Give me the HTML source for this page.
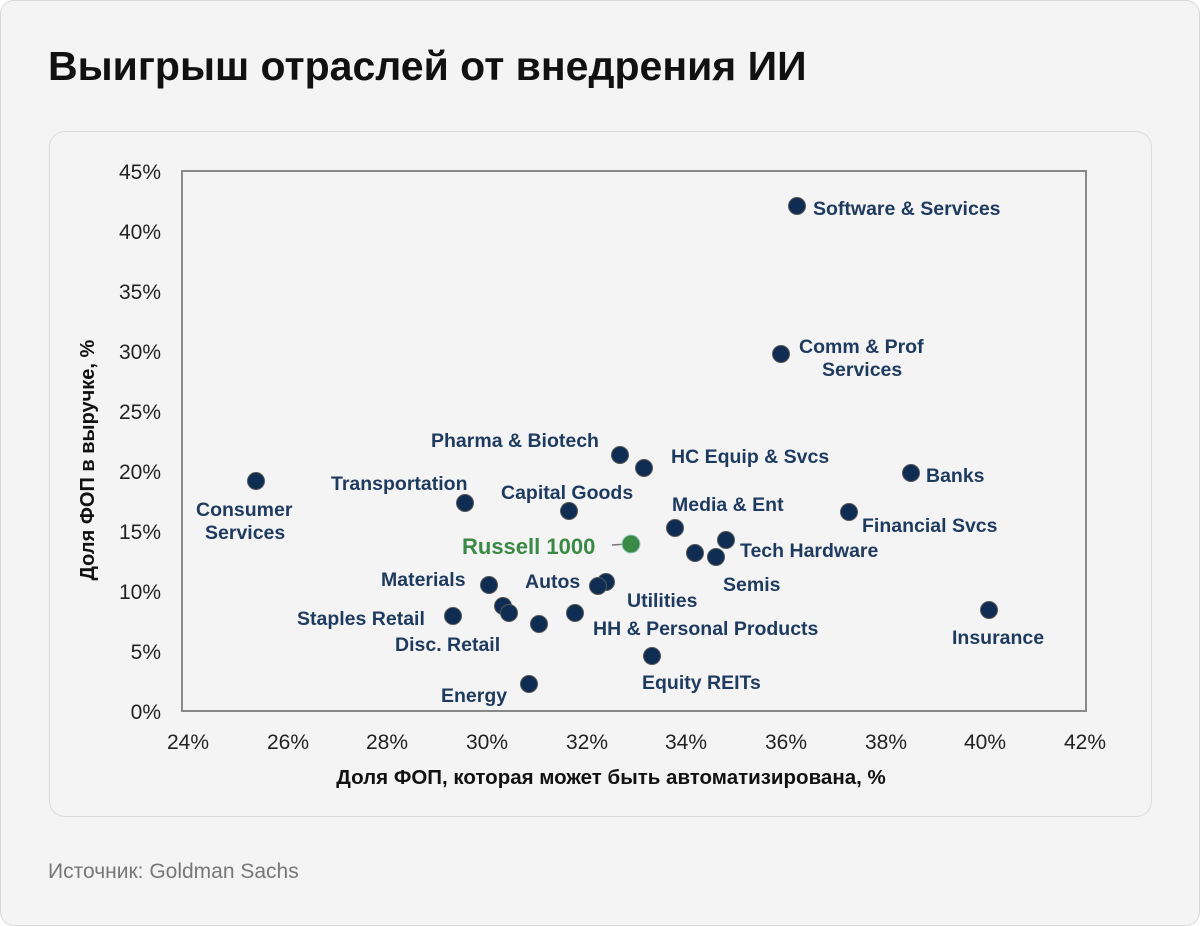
<!DOCTYPE html>
<html><head><meta charset="utf-8"><style>
html,body{margin:0;padding:0;background:#fff}
.outer{position:absolute;left:0;top:0;width:1198px;height:924px;border:1px solid #d8d8d8;border-radius:14px;background:#f4f4f4}
h1{position:absolute;left:48px;top:43px;margin:0;font:bold 41px "Liberation Sans","Noto Sans CJK SC",sans-serif;color:#111}
.inner{position:absolute;left:49px;top:131px;width:1101px;height:684px;border:1px solid #dcdcdc;border-radius:16px;background:#f4f4f4}
.src{position:absolute;left:48px;top:860px;font:21px "Liberation Sans","Noto Sans CJK SC",sans-serif;color:#777}
svg{position:absolute;left:0;top:0}
</style></head><body>
<div class="outer"></div>
<h1>Выигрыш отраслей от внедрения ИИ</h1>
<div class="inner"></div>
<div class="src">Источник: Goldman Sachs</div>
<svg width="1200" height="926" font-family="Liberation Sans, Noto Sans CJK SC, sans-serif">
<rect x="182" y="171" width="904" height="540" fill="none" stroke="#888" stroke-width="2"/>
<g font-size="21" fill="#222" text-anchor="end">
<text x="161" y="179">45%</text><text x="161" y="239">40%</text><text x="161" y="299">35%</text><text x="161" y="359">30%</text><text x="161" y="419">25%</text><text x="161" y="479">20%</text><text x="161" y="539">15%</text><text x="161" y="599">10%</text><text x="161" y="659">5%</text><text x="161" y="719">0%</text>
</g>
<g font-size="21" fill="#222" text-anchor="middle">
<text x="188" y="749">24%</text><text x="288" y="749">26%</text><text x="387" y="749">28%</text><text x="487" y="749">30%</text><text x="587" y="749">32%</text><text x="686" y="749">34%</text><text x="786" y="749">36%</text><text x="886" y="749">38%</text><text x="985" y="749">40%</text><text x="1085" y="749">42%</text>
</g>
<text x="611" y="784" font-size="20.5" font-weight="bold" fill="#111" text-anchor="middle">Доля ФОП, которая может быть автоматизирована, %</text>
<text transform="translate(94,460) rotate(-90)" font-size="20" font-weight="bold" fill="#111" text-anchor="middle">Доля ФОП в выручке, %</text>
<line x1="612" y1="545" x2="627" y2="544" stroke="#777" stroke-width="1.5"/>
<g fill="#0f2d52" stroke="#555" stroke-width="1">
<circle cx="797" cy="206" r="8.5"/><circle cx="781" cy="354" r="8.5"/><circle cx="620" cy="455" r="8.5"/><circle cx="644" cy="468" r="8.5"/><circle cx="911" cy="473" r="8.5"/><circle cx="256" cy="481" r="8.5"/><circle cx="465" cy="503" r="8.5"/><circle cx="569" cy="511" r="8.5"/><circle cx="849" cy="512" r="8.5"/><circle cx="675" cy="528" r="8.5"/><circle cx="726" cy="540" r="8.5"/><circle cx="695" cy="553" r="8.5"/><circle cx="716" cy="557" r="8.5"/><circle cx="489" cy="585" r="8.5"/><circle cx="606" cy="582" r="8.5"/><circle cx="598" cy="586" r="8.5"/><circle cx="453" cy="616" r="8.5"/><circle cx="503" cy="606" r="8.5"/><circle cx="509" cy="613" r="8.5"/><circle cx="539" cy="624" r="8.5"/><circle cx="575" cy="613" r="8.5"/><circle cx="989" cy="610" r="8.5"/><circle cx="652" cy="656" r="8.5"/><circle cx="529" cy="684" r="8.5"/>
</g>
<circle cx="631" cy="544" r="9" fill="#3a8a46" stroke="#9cc" stroke-width="1"/>
<g font-size="19.5" font-weight="bold" fill="#1f3a5f">
<text x="813" y="215">Software &amp; Services</text>
<text x="799" y="353">Comm &amp; Prof</text><text x="822" y="376">Services</text>
<text x="431" y="447">Pharma &amp; Biotech</text>
<text x="671" y="463">HC Equip &amp; Svcs</text>
<text x="926" y="482">Banks</text>
<text x="196" y="516">Consumer</text><text x="205" y="539">Services</text>
<text x="331" y="490">Transportation</text>
<text x="501" y="499">Capital Goods</text>
<text x="862" y="532">Financial Svcs</text>
<text x="672" y="511">Media &amp; Ent</text>
<text x="740" y="557">Tech Hardware</text>
<text x="723" y="591">Semis</text>
<text x="381" y="586">Materials</text>
<text x="525" y="588">Autos</text>
<text x="627" y="607">Utilities</text>
<text x="297" y="625">Staples Retail</text>
<text x="395" y="651">Disc. Retail</text>
<text x="593" y="635">HH &amp; Personal Products</text>
<text x="952" y="644">Insurance</text>
<text x="642" y="689">Equity REITs</text>
<text x="441" y="702">Energy</text>
</g>
<text x="462" y="554" font-size="22" font-weight="bold" fill="#3a8a46">Russell 1000</text>
</svg>
</body></html>
